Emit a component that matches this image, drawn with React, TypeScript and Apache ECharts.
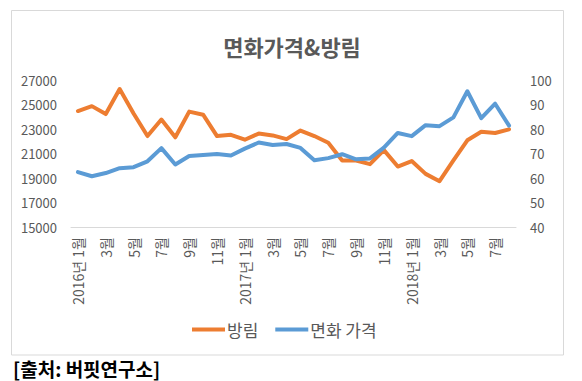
import React, { useEffect, useRef } from "react";
import * as echarts from "echarts";

const FONT = '"Noto Sans CJK KR", "Noto Sans", sans-serif';

const categories: string[] = [
  "2016년 1월", "2월", "3월", "4월", "5월", "6월", "7월", "8월", "9월", "10월", "11월", "12월",
  "2017년 1월", "2월", "3월", "4월", "5월", "6월", "7월", "8월", "9월", "10월", "11월", "12월",
  "2018년 1월", "2월", "3월", "4월", "5월", "6월", "7월", "8월",
];

const bangrim: number[] = [
  24500, 24900, 24250, 26300, 24300, 22450, 23800, 22350, 24450, 24200, 22450, 22550,
  22150, 22650, 22500, 22200, 22900, 22450, 21900, 20450, 20450, 20150, 21300, 19950,
  20400, 19350, 18750, 20450, 22100, 22800, 22700, 23000,
];

const cottonPrice: number[] = [
  62.5, 60.8, 62.1, 64.1, 64.5, 66.9, 72.3, 65.6, 69.1, 69.5, 69.9, 69.3,
  72.1, 74.6, 73.6, 74.0, 72.4, 67.3, 68.2, 69.8, 67.7, 68.1, 72.5, 78.5,
  77.2, 81.7, 81.3, 84.9, 95.6, 84.6, 90.5, 81.5,
];

const leftTicks = { min: 15000, max: 27000, interval: 2000 };
const rightTicks = { min: 40, max: 100, interval: 10 };

const titleText = "면화가격&방림";
const sourceText = "[출처: 버핏연구소]";
const seriesNames = ["방림", "면화 가격"];

export default function App() {
  const ref = useRef<HTMLDivElement>(null);
  useEffect(() => {
    if (!ref.current) return;
    const chart = echarts.init(ref.current, null, { renderer: "svg" });
    const labelColor = "#595959";
    chart.setOption({
      animation: false,
      backgroundColor: "#ffffff",
      title: {
        text: titleText,
        left: 287,
        textAlign: "center",
        top: 30,
        textStyle: {
          fontFamily: FONT,
          fontSize: 22,
          fontWeight: "bold",
          color: labelColor,
        },
      },
      legend: {
        data: seriesNames,
        icon: "rect",
        left: 192,
        top: 321,
        itemWidth: 33,
        itemHeight: 4,
        itemGap: 17,
        padding: 0,
        textStyle: { fontFamily: FONT, fontSize: 17, color: labelColor, padding: [0, 0, 0, -3] },
      },
      grid: { left: 71, right: 66, top: 80.5, bottom: 154, containLabel: false },
      xAxis: {
        type: "category",
        data: categories,
        boundaryGap: true,
        axisLine: { lineStyle: { color: "#d9d9d9", width: 1 } },
        axisTick: { show: false },
        axisLabel: {
          interval: 1,
          rotate: 90,
          margin: 10,
          fontFamily: FONT,
          fontSize: 14,
          color: labelColor,
        },
        splitLine: { show: false },
      },
      yAxis: [
        {
          type: "value",
          position: "left",
          min: leftTicks.min,
          max: leftTicks.max,
          interval: leftTicks.interval,
          axisLine: { show: false },
          axisTick: { show: false },
          splitLine: { show: false },
          axisLabel: {
            margin: 14,
            fontFamily: FONT,
            fontSize: 13,
            color: labelColor,
            formatter: (v: number) => String(v),
          },
        },
        {
          type: "value",
          position: "right",
          min: rightTicks.min,
          max: rightTicks.max,
          interval: rightTicks.interval,
          axisLine: { show: false },
          axisTick: { show: false },
          splitLine: { show: false },
          axisLabel: {
            margin: 14,
            fontFamily: FONT,
            fontSize: 13,
            color: labelColor,
            formatter: (v: number) => String(v),
          },
        },
      ],
      series: [
        {
          name: seriesNames[0],
          type: "line",
          yAxisIndex: 0,
          data: bangrim,
          symbol: "none",
          lineStyle: { color: "#ED7D31", width: 4, join: "round", cap: "round" },
          itemStyle: { color: "#ED7D31" },
        },
        {
          name: seriesNames[1],
          type: "line",
          yAxisIndex: 1,
          data: cottonPrice,
          symbol: "none",
          lineStyle: { color: "#5B9BD5", width: 4, join: "round", cap: "round" },
          itemStyle: { color: "#5B9BD5" },
        },
      ],
      graphic: [
        {
          type: "rect",
          shape: { x: 11.5, y: 10.5, width: 552, height: 344.5 },
          style: { fill: "none", stroke: "#d9d9d9", lineWidth: 1 },
          silent: true,
          z: -1,
        },
        {
          type: "text",
          x: 13,
          y: 368,
          style: {
            text: sourceText,
            fontFamily: FONT,
            fontSize: 19,
            fontWeight: "bold",
            fill: "#000000",
            verticalAlign: "middle",
            align: "left",
          },
        },
      ],
    });
    return () => chart.dispose();
  }, []);
  return (
    <div
      ref={ref}
      style={{ position: "absolute", left: 0, top: 0, width: 582, height: 381 }}
    />
  );
}
